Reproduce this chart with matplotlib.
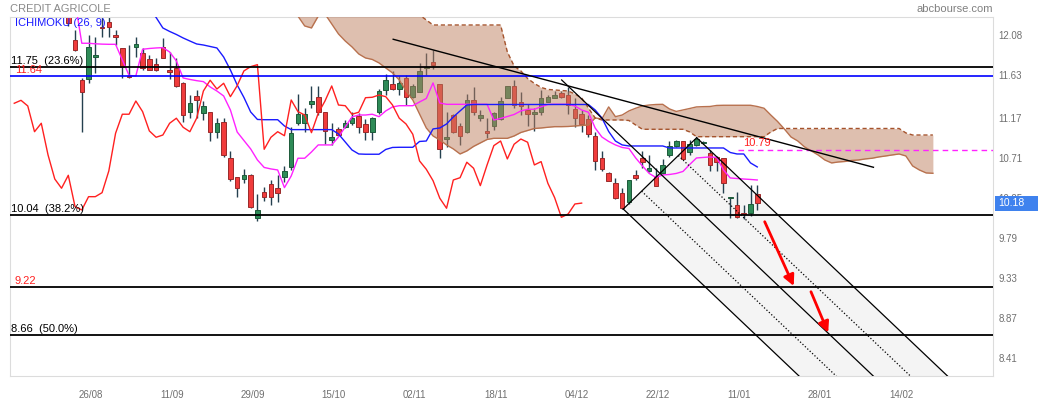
import numpy as np
import matplotlib.pyplot as plt
from matplotlib.patches import Rectangle, Polygon

plt.rcParams['font.family'] = ['Liberation Sans', 'DejaVu Sans']

# daily candles, index 0 = first session visible on the chart
opens = [12.40, 12.056, 11.596, 11.608, 11.857, 12.205, 12.266, 12.113, 11.961, 11.642,
         11.972, 11.903, 11.837, 11.777, 11.979, 11.711, 11.731, 11.558, 11.225, 11.412,
         11.213, 11.232, 10.995, 11.109, 10.703, 10.477, 10.457, 10.500, 10.005, 10.305,
         10.397, 10.351, 10.484, 10.599, 11.098, 11.098, 11.316, 11.400, 11.225, 10.909,
         11.029, 11.052, 11.098, 11.182, 11.087, 11.001, 11.232, 11.481, 11.547, 11.492,
         11.616, 11.404, 11.461, 11.731, 11.800, 11.550, 10.920, 11.193, 11.067, 11.001,
         11.366, 11.156, 11.010, 11.071, 11.144, 11.392, 11.527, 11.339, 11.251, 11.202,
         11.232, 11.346, 11.392, 11.443, 11.423, 11.259, 11.205, 11.144, 10.955, 10.696,
         10.523, 10.408, 10.293, 10.190, 10.500, 10.696, 10.553, 10.496, 10.530, 10.734,
         10.841, 10.894, 10.765, 10.849, 10.872, 10.753, 10.714, 10.696, 10.235, 10.159,
         10.070, 10.070, 10.282]
highs = [12.45, 12.171, 11.619, 12.113, 12.094, 12.332, 12.343, 12.171, 11.964, 11.998,
         12.094, 11.961, 11.883, 11.852, 12.075, 11.921, 11.845, 11.577, 11.423, 11.481,
         11.354, 11.232, 11.162, 11.156, 10.780, 10.484, 10.569, 10.511, 10.282, 10.362,
         10.446, 10.500, 10.611, 11.059, 11.435, 11.271, 11.527, 11.527, 11.232, 11.098,
         11.060, 11.140, 11.222, 11.213, 11.144, 11.170, 11.492, 11.662, 11.700, 11.640,
         11.654, 11.550, 11.788, 11.903, 11.941, 11.550, 11.232, 11.205, 11.098, 11.435,
         11.510, 11.251, 11.156, 11.232, 11.404, 11.530, 11.596, 11.454, 11.316, 11.271,
         11.481, 11.420, 11.470, 11.470, 11.519, 11.385, 11.251, 11.190, 11.001, 10.780,
         10.540, 10.466, 10.351, 10.450, 10.558, 10.780, 10.730, 10.581, 10.690, 10.894,
         10.906, 10.894, 10.906, 10.930, 10.890, 10.791, 10.720, 10.700, 10.250, 10.312,
         10.160, 10.389, 10.389]
lows = [12.22, 11.929, 10.998, 11.562, 11.673, 12.094, 12.094, 11.998, 11.623, 11.616,
        11.864, 11.711, 11.711, 11.700, 11.852, 11.604, 11.519, 11.109, 11.156, 11.156,
        11.136, 10.894, 10.925, 10.714, 10.438, 10.254, 10.408, 10.128, 9.975, 10.208,
        10.159, 10.190, 10.427, 10.561, 11.078, 11.001, 11.278, 11.193, 10.860, 10.849,
        10.950, 11.040, 11.078, 10.983, 10.906, 10.906, 11.205, 11.423, 11.481, 11.420,
        11.308, 11.390, 11.461, 11.654, 11.723, 10.703, 10.820, 10.990, 10.849, 10.983,
        11.193, 11.124, 10.932, 11.021, 11.136, 11.390, 11.271, 11.193, 11.067, 11.014,
        11.193, 11.340, 11.390, 11.390, 11.202, 11.059, 11.001, 10.940, 10.561, 10.550,
        10.430, 10.228, 10.112, 10.170, 10.446, 10.581, 10.540, 10.381, 10.510, 10.714,
        10.830, 10.684, 10.730, 10.840, 10.860, 10.544, 10.550, 10.293, 10.012, 10.005,
        10.000, 10.032, 10.101]
closes = [12.248, 11.941, 11.454, 11.972, 11.883, 12.197, 12.209, 12.087, 11.742, 11.635,
          12.006, 11.731, 11.711, 11.708, 11.852, 11.685, 11.530, 11.193, 11.328, 11.362,
          11.297, 11.001, 11.098, 10.734, 10.457, 10.351, 10.500, 10.139, 10.101, 10.254,
          10.254, 10.300, 10.550, 10.983, 11.202, 11.202, 11.354, 11.232, 11.010, 10.937,
          10.963, 11.098, 11.156, 11.052, 11.001, 11.156, 11.469, 11.593, 11.492, 11.558,
          11.404, 11.530, 11.700, 11.749, 11.772, 10.799, 10.937, 11.001, 10.955, 11.366,
          11.232, 11.193, 10.990, 11.213, 11.354, 11.527, 11.308, 11.300, 11.202, 11.225,
          11.392, 11.397, 11.423, 11.404, 11.308, 11.156, 11.090, 10.972, 10.665, 10.569,
          10.438, 10.236, 10.121, 10.446, 10.472, 10.650, 10.581, 10.381, 10.619, 10.841,
          10.894, 10.688, 10.857, 10.917, 10.880, 10.619, 10.657, 10.408, 10.243, 10.017,
          10.055, 10.170, 10.180]

# ichimoku lines
tenkan_start = 1
tenkan = [12.50, 12.018, 12.018, 12.012, 12.008, 12.006, 12.006, 11.826, 11.648, 11.642,
          11.949, 11.958, 11.964, 11.968, 11.918, 11.815, 11.619, 11.602, 11.588, 11.577,
          11.516, 11.469, 11.412, 11.251, 10.998, 10.900, 10.803, 10.676, 10.590, 10.573,
          10.561, 10.358, 10.492, 10.696, 10.696, 10.768, 10.849, 10.849, 10.849, 10.940,
          11.056, 11.171, 11.193, 11.193, 11.202, 11.174, 11.240, 11.286, 11.300, 11.300,
          11.300, 11.343, 11.383, 11.562, 11.331] + [11.316] * 7 + \
         [11.136, 11.153, 11.176, 11.199, 11.240, 11.259, 11.259, 11.288,
          11.314, 11.316, 11.316, 11.316, 11.297, 11.251, 11.225,
          11.044, 10.940, 10.889, 10.849, 10.820, 10.808, 10.699, 10.607, 10.521, 10.475,
          10.504, 10.509, 10.521, 10.544, 10.624, 10.699, 10.705, 10.711, 10.705, 10.561,
          10.469, 10.463, 10.457, 10.452, 10.446]

kijun_start = 12
kijun = [12.401, 12.315, 12.194, 12.154, 12.119, 12.079, 12.044, 12.010, 11.998, 11.981,
         11.964, 11.860, 11.711, 11.539, 11.395, 11.228, 11.142] + [11.139] * 3 + \
        [11.067] + [11.025] * 7 + [10.975, 10.883, 10.791, 10.745] + [10.742] * 3 + \
        [10.797, 10.820] + [10.822] * 3 + \
        [10.889, 10.894, 11.033, 11.044, 11.090, 11.171, 11.240, 11.308] + [11.314] * 18 + \
        [11.251, 11.159, 11.004, 10.894, 10.849] + [10.837] * 6 + [10.814] * 9 + \
        [10.762, 10.745, 10.745, 10.642, 10.596]

cloud_start = 30
span_a = [12.50] * 4 + [12.33, 12.217, 12.194, 12.33, 12.355, 12.240, 12.125, 12.044, 11.976,
          11.895, 11.849, 11.832, 11.792, 11.734, 11.677, 11.596, 11.469, 11.366, 11.205,
          11.044, 10.952, 10.906, 10.849, 10.803, 10.745, 10.780, 10.832, 10.872, 10.912,
          10.925, 10.925, 10.925, 10.952, 10.992, 11.015, 11.038, 11.044, 11.052, 11.059,
          11.059, 11.061, 11.067, 11.073, 11.078, 11.159, 11.148, 11.286, 11.174, 11.193,
          11.240, 11.271, 11.297, 11.308, 11.314, 11.316, 11.263, 11.234, 11.251, 11.268,
          11.286, 11.289, 11.291, 11.303] + [11.305] * 5 + \
         [11.291, 11.271, 11.193, 11.119, 11.033, 10.940, 10.894, 10.826, 10.780, 10.734,
          10.676, 10.642, 10.653, 10.659, 10.671, 10.676, 10.688, 10.696, 10.711, 10.722,
          10.734, 10.745, 10.722, 10.607, 10.561, 10.527, 10.523]
span_b = [12.55] * 22 + [12.343, 12.286] + [12.228] * 11 + \
         [11.918, 11.757, 11.700, 11.613, 11.556, 11.510, 11.487, 11.481, 11.475, 11.469,
          11.435, 11.389, 11.274, 11.159] + [11.136] * 4 + [11.130, 11.078] + [11.029] * 7 + \
         [10.998] + [10.944] * 11 + [10.998] + [11.038] * 19 + [10.987] + [10.963] * 4

# drawn levels and tools
fib_levels = [11.75, 10.04, 8.66]
fib_labels = ['11.75  (23.6%)', '10.04  (38.2%)', '8.66  (50.0%)']
red_levels = [11.64, 9.22]
dash_level = 10.79
last_price = 10.18
trend_pts = [(48.1, 12.064), (119.2, 10.592)]
fork_pivot = (73.04, 11.596)
fork_a = (82.16, 10.112)
fork_b = (93.03, 10.932)
arrows = [((103.1, 9.966), (107.4, 9.227)), ((109.95, 9.161), (112.5, 8.690))]

date_labels = ['26/08', '11/09', '29/09', '15/10', '02/11', '18/11', '04/12',
               '22/12', '11/01', '28/01', '14/02']
date_pos = [3 + 12 * k for k in range(len(date_labels))]
ytick_labels = ['8.41', '8.87', '9.33', '9.79', '10.25', '10.71', '11.17', '11.63', '12.08']
ytick_pos = [8.397, 8.857, 9.318, 9.778, 10.238, 10.698, 11.158, 11.648, 12.113]

fig = plt.figure(figsize=(10.38, 4.03), dpi=100)
ax = fig.add_axes([10 / 1038, 27 / 403, 983 / 1038, 359 / 403])
ax.set_xlim(-8.63, 136.9)
ax.set_ylim(8.192, 12.32)

# pitchfork
P, A, B = np.array(fork_pivot), np.array(fork_a), np.array(fork_b)
M = (A + B) / 2
d = M - P
ax.add_patch(Polygon([A, B, B + 4 * d, A + 4 * d], closed=True, facecolor='#f4f4f4',
                     edgecolor='none', zorder=1))
for start, ls in [(P, '-'), (A, '-'), (B, '-'), ((A + M) / 2, ':'), ((B + M) / 2, ':')]:
    end = start + 4 * d
    ax.plot([start[0], end[0]], [start[1], end[1]], color='black', lw=0.9, ls=ls, zorder=5)
ax.plot([A[0], B[0]], [A[1], B[1]], color='black', lw=0.9, zorder=5)

# candles
idx = np.arange(len(closes))
o, h, l, c = map(np.array, (opens, highs, lows, closes))
up = c >= o
ax.vlines(idx, l, h, color='#24404f', lw=1, zorder=2)
body_lo = np.minimum(o, c)
body_h = np.maximum(np.abs(c - o), 0.012)
ax.bar(idx[up], body_h[up], bottom=body_lo[up], width=0.68, color='#2e8b57',
       edgecolor='#1d5a3a', lw=0.7, zorder=2.5)
ax.bar(idx[~up], body_h[~up], bottom=body_lo[~up], width=0.68, color='#f03c3c',
       edgecolor='#9a2a2a', lw=0.7, zorder=2.5)

# cloud
xc = np.arange(cloud_start, cloud_start + len(span_a))
ax.fill_between(xc, span_a, span_b, color=(0.75, 0.5, 0.38), alpha=0.5, lw=0, zorder=3)
ax.plot(xc, span_a, color='#b8714e', lw=1, zorder=3.5)
ax.plot(xc, span_b, color='#a5532c', lw=1, ls=(0, (3, 2)), zorder=3.5)

# tenkan, kijun, chikou
ax.plot(np.arange(tenkan_start, tenkan_start + len(tenkan)), tenkan, color='#ff22ff', lw=1, zorder=4)
ax.plot(np.arange(kijun_start, kijun_start + len(kijun)), kijun, color='#1a1aff', lw=1, zorder=4)
ax.plot(idx[18:] - 26, c[18:], color='#ff2020', lw=1, zorder=4)

# horizontal levels
for lv, lab in zip(fib_levels, fib_labels):
    ax.axhline(lv, color='black', lw=1.3, zorder=5)
    ax.text(-8.55, lv + 0.012, lab, fontsize=8, color='black', va='bottom', ha='left', zorder=6)
ax.axhline(red_levels[0], color='#0000ff', lw=1.2, zorder=5)
ax.axhline(red_levels[1], color='black', lw=1.3, zorder=5)
for lv in red_levels:
    ax.text(-7.9, lv + 0.012, f'{lv:.2f}', fontsize=8, color='#ff2020', va='bottom', ha='left', zorder=6)
ax.plot([99.2, 136.9], [dash_level, dash_level], color='#ff22ff', lw=1, ls=(0, (4, 3)), zorder=4)
ax.text(99.9, dash_level + 0.02, f'{dash_level:.2f}', fontsize=8, color='#ff2020', va='bottom', zorder=6)

# trend line and arrows
ax.plot([p[0] for p in trend_pts], [p[1] for p in trend_pts], color='black', lw=1, zorder=5)
for (x0, y0), (x1, y1) in arrows:
    ax.annotate('', xy=(x1, y1), xytext=(x0, y0),
                arrowprops=dict(arrowstyle='-|>', color='red', lw=2, mutation_scale=16,
                                shrinkA=0, shrinkB=0), zorder=6)

ax.text(-7.9, 12.25, 'ICHIMOKU (26, 9)', fontsize=8, color='#1a1aff', va='center', zorder=6)

# axes styling
for s in ax.spines.values():
    s.set_color('#dcdcdc')
ax.yaxis.tick_right()
ax.set_yticks(ytick_pos)
ax.set_yticklabels(ytick_labels)
ax.set_xticks(np.array(date_pos) + 0.3)
ax.set_xticklabels(date_labels)
ax.tick_params(axis='y', length=0, pad=4, labelsize=7, labelcolor='#707070')
ax.tick_params(axis='x', length=0, pad=10, labelsize=7, labelcolor='#707070')

fig.text(10 / 1038, 1 - 9 / 403, 'CREDIT AGRICOLE', fontsize=8, color='#8a8a8a', va='center')
fig.text(993 / 1038, 1 - 9 / 403, 'abcbourse.com', fontsize=8, color='#808080', va='center', ha='right')
# last price tag drawn over the right axis, as in the reference
fig.add_artist(Rectangle((995 / 1038, 1 - 210.7 / 403), 43 / 1038, 15 / 403,
                         transform=fig.transFigure, facecolor='#3f82ee', edgecolor='none', zorder=10))
fig.text(998 / 1038, 1 - 203.2 / 403, f'{last_price:.2f}', fontsize=7.5, color='white',
         va='center', zorder=11)

fig.savefig('out.png', dpi=100)
